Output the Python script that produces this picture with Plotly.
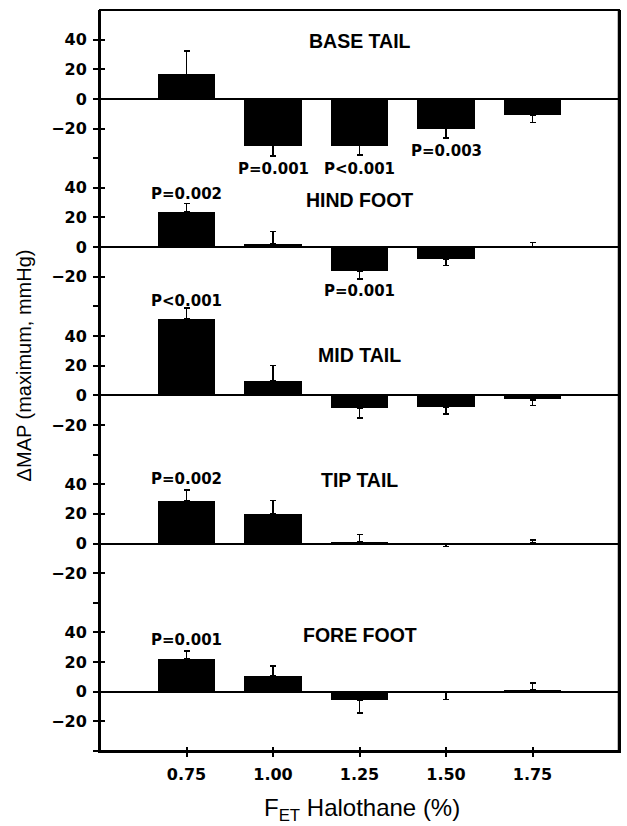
import plotly.graph_objects as go
from plotly.subplots import make_subplots

# ---- data ----
halothane = [0.75, 1.00, 1.25, 1.50, 1.75]
x_tick_labels = ["0.75", "1.00", "1.25", "1.50", "1.75"]

panel_names = ["BASE TAIL", "HIND FOOT", "MID TAIL", "TIP TAIL", "FORE FOOT"]

base_tail = [16.5, -31.5, -31.5, -20.0, -11.0]
base_tail_err = [16.0, 7.0, 6.5, 6.5, 5.0]
hind_foot = [23.5, 2.0, -16.0, -8.0, 0.5]
hind_foot_err = [6.0, 8.5, 5.5, 4.5, 2.5]
mid_tail = [51.5, 9.5, -8.5, -8.0, -3.0]
mid_tail_err = [7.5, 10.5, 7.0, 4.5, 4.0]
tip_tail = [29.0, 20.0, 1.5, -0.5, 0.5]
tip_tail_err = [7.0, 9.0, 4.5, 1.5, 2.0]
fore_foot = [22.0, 10.5, -5.5, -0.3, 1.5]
fore_foot_err = [5.5, 7.0, 9.0, 5.0, 4.5]

# p-value labels: (panel index, x, y, text)
p_labels = [
    (0, 1.00, -47.0, "P=0.001"),
    (0, 1.25, -47.0, "P<0.001"),
    (0, 1.50, -35.0, "P=0.003"),
    (1, 0.75, 36.0, "P=0.002"),
    (1, 1.25, -29.5, "P=0.001"),
    (2, 0.75, 63.5, "P<0.001"),
    (3, 0.75, 43.4, "P=0.002"),
    (4, 0.75, 34.7, "P=0.001"),
]
panel_label_y = [39.0, 32.0, 27.0, 42.7, 38.3]

y_range = [-40, 60]
x_range = [0.5, 2.0]
y_tick_vals = [-40, -20, 0, 20, 40]
y_tick_text = ["", "\u221220", "0", "20", "40"]

series = [
    (base_tail, base_tail_err),
    (hind_foot, hind_foot_err),
    (mid_tail, mid_tail_err),
    (tip_tail, tip_tail_err),
    (fore_foot, fore_foot_err),
]

TICK_FONT = dict(family="DejaVu Sans", size=16, color="black", weight="bold")
P_FONT = dict(family="DejaVu Sans", size=15, color="black", weight="bold")
PANEL_FONT = dict(family="Liberation Sans", size=19.5, color="black", weight="bold")

fig = make_subplots(rows=5, cols=1, shared_xaxes=True, vertical_spacing=0)

for i, (vals, errs) in enumerate(series):
    plus = [e if v >= 0 else 0 for v, e in zip(vals, errs)]
    minus = [e if v < 0 else 0 for v, e in zip(vals, errs)]
    fig.add_trace(
        go.Bar(
            x=halothane, y=vals, width=0.165,
            marker=dict(color="black", line=dict(width=0)),
            error_y=dict(type="data", symmetric=False, array=plus,
                         arrayminus=minus, color="black",
                         thickness=1.6, width=3),
            showlegend=False, hoverinfo="skip",
        ),
        row=i + 1, col=1,
    )

for i in range(5):
    fig.update_yaxes(
        range=y_range, tickmode="array", tickvals=y_tick_vals,
        ticktext=y_tick_text, showgrid=False, showline=True, mirror=True,
        linecolor="black", linewidth=2,
        zeroline=True, zerolinecolor="black", zerolinewidth=2,
        ticks="outside", ticklen=5, tickwidth=1.5, tickcolor="black",
        tickfont=TICK_FONT, ticklabelstandoff=3,
        row=i + 1, col=1,
    )
    fig.update_xaxes(range=x_range, showgrid=False, zeroline=False,
                     showline=False, ticks="", showticklabels=False,
                     row=i + 1, col=1)

fig.update_xaxes(
    tickmode="array", tickvals=halothane, ticktext=x_tick_labels,
    showticklabels=True, ticks="outside", ticklen=4, tickwidth=1.5,
    tickcolor="black", showline=True, linecolor="black", linewidth=2,
    tickfont=TICK_FONT, ticklabelstandoff=4,
    row=5, col=1,
)

# overlay axes so that the tick marks cross the axis lines
for i in range(5):
    n = 6 + i
    base_y = "y" if i == 0 else f"y{i + 1}"
    base_x = "x" if i == 0 else f"x{i + 1}"
    fig.add_trace(go.Scatter(x=[None], y=[None], xaxis=base_x,
                             yaxis=f"y{n}", showlegend=False, hoverinfo="skip"))
    fig.layout[f"yaxis{n}"] = dict(
        overlaying=base_y, range=y_range, tickmode="array",
        tickvals=y_tick_vals, ticks="inside", ticklen=5, tickwidth=1.5,
        tickcolor="black", showticklabels=False, showgrid=False,
        zeroline=False, showline=False, anchor=base_x,
    )
fig.add_trace(go.Scatter(x=[None], y=[None], xaxis="x11", yaxis="y5",
                         showlegend=False, hoverinfo="skip"))
fig.layout["xaxis11"] = dict(
    overlaying="x5", anchor="y5", range=x_range, tickmode="array",
    tickvals=halothane, ticks="inside", ticklen=4, tickwidth=1.5,
    tickcolor="black", showticklabels=False, showgrid=False,
    zeroline=False, showline=False,
)


def ydom(v):
    return (v - y_range[0]) / (y_range[1] - y_range[0])


annotations = []
for i, name in enumerate(panel_names):
    xr = "x" if i == 0 else f"x{i + 1}"
    yr = "y domain" if i == 0 else f"y{i + 1} domain"
    annotations.append(dict(x=1.25, y=ydom(panel_label_y[i]), xref=xr, yref=yr,
                            xanchor="center", yanchor="middle",
                            text=name, showarrow=False, font=PANEL_FONT))
for (pi, px, py, txt) in p_labels:
    xr = "x" if pi == 0 else f"x{pi + 1}"
    yr = "y domain" if pi == 0 else f"y{pi + 1} domain"
    annotations.append(dict(x=px, y=ydom(py), xref=xr, yref=yr, text=txt,
                            xanchor="center", yanchor="middle",
                            showarrow=False, font=P_FONT))

annotations.append(dict(x=-0.1475, y=0.521, xref="paper", yref="paper",
                        text="\u0394MAP (maximum, mmHg)", textangle=-90,
                        showarrow=False, xanchor="center", yanchor="middle",
                        font=dict(family="Liberation Sans", size=20, color="black")))
annotations.append(dict(x=0.505, y=-0.079, xref="paper", yref="paper",
                        text="F<sub>ET</sub> Halothane (%)",
                        showarrow=False, xanchor="center", yanchor="middle",
                        font=dict(family="Liberation Sans", size=24, color="black")))

fig.update_layout(
    width=627, height=826,
    margin=dict(l=100, r=6, t=10, b=75),
    paper_bgcolor="white", plot_bgcolor="white",
    bargap=0, annotations=annotations,
    shapes=[
        dict(type="rect", xref="paper", yref="paper", x0=0, x1=1,
             y0=0, y1=1, line=dict(color="black", width=2), layer="above"),
        dict(type="line", xref="paper", yref="paper", x0=1, x1=1,
             y0=0, y1=1, line=dict(color="black", width=2.5), layer="above"),
    ],
)

fig.write_html(
    "out.html",
    config={"displayModeBar": False},
    post_script="document.body.style.margin='0';document.body.style.overflow='hidden';",
)
